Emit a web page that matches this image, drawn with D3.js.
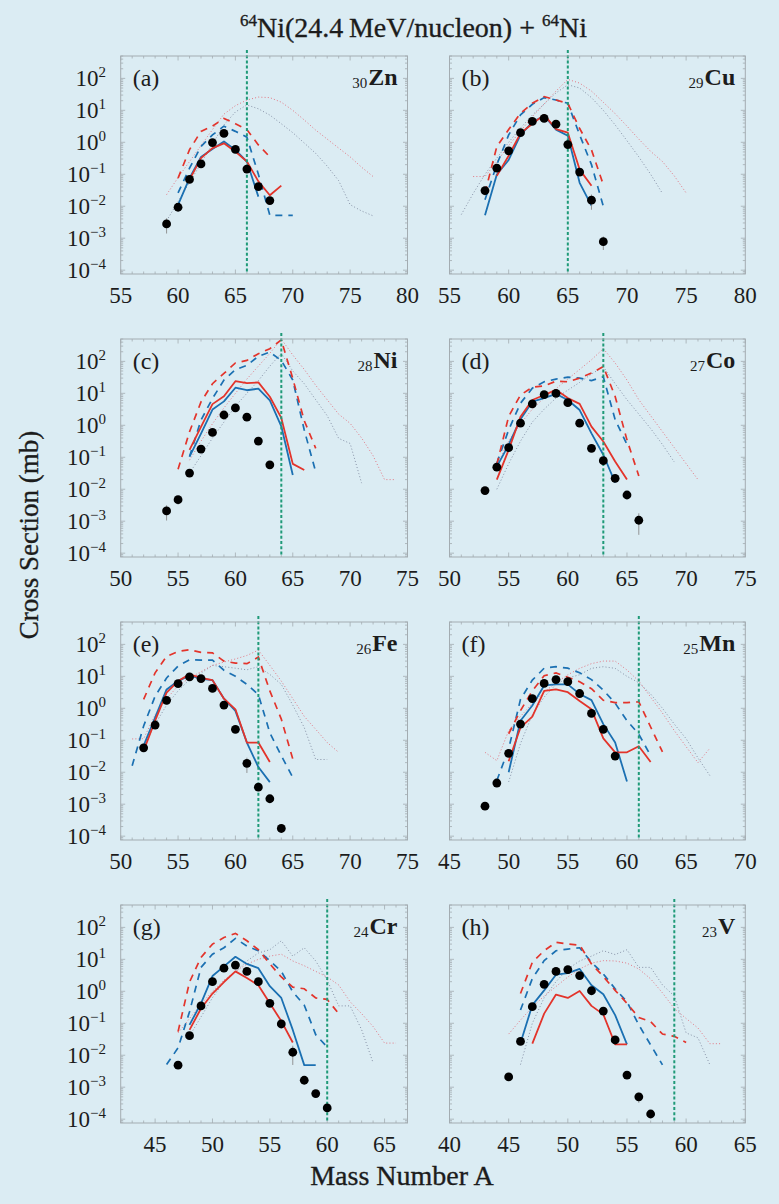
<!DOCTYPE html>
<html>
<head>
<meta charset="utf-8">
<script src="https://cdn.jsdelivr.net/npm/d3@7"></script>
<style>
  html, body { margin: 0; padding: 0; background: #dbecf3; }
  svg { display: block; }
</style>
</head>
<body>
<svg id="chart" width="779" height="1204" font-family="'Liberation Serif', 'DejaVu Serif', 'Times New Roman', Times, serif"></svg>
<script>
// ---------------------------------------------------------------
// Isotope production cross sections (mb), 64Ni(24.4 MeV/u) + 64Ni
// exp*      : [A, sigma, relative error]
// blue*/red*: model curves after de-excitation (solid)
// blueDash*/redDash*: primary fragment yields (dashed)
// pink*/gray*: additional calculations (dotted)
// ---------------------------------------------------------------

// ---- 30Zn ----
const expZn = [[59,2.8e-3,0.5],[60,9.3e-3,0.2],[61,0.069,0.1],[62,0.21,0.1],[63,0.98,0.1],[64,1.9,0.1],[65,0.60,0.1],[66,0.145,0.1],[67,0.041,0.15],[68,0.015,0.15]];
const blueZn = [[60,0.011],[61,0.076],[62,0.35],[63,0.62],[64,1.06],[65,0.58],[66,0.25],[67,0.020]];
const redZn = [[61,0.068],[62,0.32],[63,0.66],[64,0.93],[65,0.51],[66,0.25],[67,0.060],[68,0.022],[69,0.044]];
const blueDashZn = [[60,0.026],[61,0.155],[62,0.74],[63,1.7],[64,3.2],[65,2.2],[66,1.45],[67,0.1],[68,0.0052],[69,0.0052],[70,0.0052]];
const redDashZn = [[60,0.076],[61,0.59],[62,2.2],[63,3.2],[64,5.6],[65,3.8],[66,2.5],[67,0.83],[68,0.35]];
const pinkZn = [[59,0.023],[60,0.079],[61,0.25],[62,0.79],[63,2.5],[64,7.6],[65,14],[66,21],[67,26],[68,25],[69,18],[70,10],[71,5.0],[72,2.4],[73,1.26],[74,0.66],[75,0.35],[76,0.166],[77,0.085]];
const grayZn = [[59,3.5e-3],[60,0.014],[61,0.056],[62,0.22],[63,0.89],[64,3.5],[65,8.9],[66,14.8],[67,11.2],[68,7.1],[69,3.8],[70,2.0],[71,0.95],[72,0.45],[73,0.18],[74,0.063],[75,0.0112],[76,7.1e-3],[77,5.0e-3]];

// ---- 29Cu ----
const expCu = [[58,0.031,0.3],[59,0.155,0.1],[60,0.54,0.1],[61,2.0,0.1],[62,4.5,0.1],[63,5.6,0.1],[64,3.7,0.1],[65,0.85,0.1],[66,0.117,0.15],[67,0.0155,0.5],[68,7.8e-4,0.45]];
const blueCu = [[58,0.0052],[59,0.098],[60,0.28],[61,1.7],[62,4.2],[63,6.8],[64,2.5],[65,1.6],[66,0.054],[67,0.0105]];
const redCu = [[59,0.089],[60,0.38],[61,1.9],[62,3.8],[63,7.2],[64,2.6],[65,2.0],[66,0.14],[67,0.044]];
const blueDashCu = [[58,0.016],[59,0.20],[60,1.7],[61,7.2],[62,15.5],[63,25],[64,21],[65,16.6],[66,1.7],[67,0.2],[68,0.01]];
const redDashCu = [[58,0.026],[59,0.74],[60,2.5],[61,8.1],[62,16.6],[63,27],[64,21],[65,16.6],[66,2.7],[67,0.58],[68,0.047]];
const pinkCu = [[57,0.085],[58,0.085],[59,0.25],[60,0.79],[61,2.24],[62,6.3],[63,15.8],[64,40],[65,93],[66,71],[67,40],[68,17.8],[69,7.9],[70,3.2],[71,1.26],[72,0.52],[73,0.25],[74,0.089],[75,0.026]];
const grayCu = [[56,5.5e-3],[57,0.025],[58,0.1],[59,0.32],[60,1.0],[61,2.8],[62,7.1],[63,15.8],[64,35],[65,63],[66,50],[67,25],[68,10],[69,3.5],[70,1.12],[71,0.35],[72,0.1],[73,0.025]];

// ---- 28Ni ----
const expNi = [[54,2.1e-3,0.5],[55,4.7e-3,0.3],[56,0.032,0.1],[57,0.18,0.1],[58,0.60,0.1],[59,2.1,0.1],[60,3.5,0.1],[61,1.8,0.1],[62,0.32,0.1],[63,0.058,0.1]];
const blueNi = [[56,0.105],[57,0.55],[58,3.1],[59,5.6],[60,15],[61,12.5],[62,14],[63,6.0],[64,0.93],[65,0.028]];
const redNi = [[56,0.17],[57,0.89],[58,4.6],[59,8.1],[60,24],[61,21],[62,22],[63,7.8],[64,1.7],[65,0.062],[66,0.040]];
const blueDashNi = [[56,0.105],[57,1.45],[58,6.9],[59,26],[60,55],[61,75],[62,144],[63,195],[64,107],[65,26],[66,0.71],[67,0.035]];
const redDashNi = [[55,0.042],[56,0.63],[57,5.4],[58,20],[59,42],[60,89],[61,107],[62,174],[63,250],[64,470],[65,29],[66,1.4],[67,0.19]];
const pinkNi = [[56,0.081],[57,0.32],[58,1.12],[59,3.5],[60,10],[61,28],[62,71],[63,178],[64,500],[65,158],[66,56],[67,17.8],[68,6.3],[69,2.24],[70,1.15],[71,0.40],[72,0.112],[73,0.020],[74,0.020]];
const grayNi = [[56,0.032],[57,0.112],[58,0.40],[59,1.26],[60,4.0],[61,10],[62,25],[63,71],[64,178],[65,50],[66,20],[67,6.3],[68,2.0],[69,0.39],[70,0.27],[71,0.0155]];

// ---- 27Co ----
const expCo = [[53,9.1e-3,0.15],[54,0.049,0.15],[55,0.20,0.1],[56,1.17,0.1],[57,4.7,0.1],[58,9.1,0.1],[59,10,0.1],[60,5.1,0.1],[61,1.17,0.1],[62,0.19,0.1],[63,0.078,0.1],[64,0.022,0.15],[65,6.6e-3,0.2],[66,1.07e-3,0.65]];
const blueCo = [[54,0.051],[55,0.245],[56,1.55],[57,5.5],[58,7.1],[59,9.6],[60,6.2],[61,3.0],[62,0.56],[63,0.12],[64,0.016]];
const redCo = [[54,0.020],[55,0.17],[56,1.86],[57,6.2],[58,8.9],[59,12.9],[60,7.1],[61,4.7],[62,0.91],[63,0.31],[64,0.074],[65,0.020]];
const blueDashCo = [[54,0.065],[55,0.72],[56,4.9],[57,14.5],[58,23],[59,28],[60,32],[61,30],[62,25],[63,33],[64,1.5],[65,0.25]];
const redDashCo = [[54,0.059],[55,1.9],[56,8.9],[57,15.5],[58,17],[59,24],[60,23],[61,30],[62,43],[63,69],[64,8],[65,0.35],[66,0.026]];
const pinkCo = [[54,0.056],[55,0.32],[56,1.12],[57,3.2],[58,7.1],[59,14],[60,28],[61,56],[62,112],[63,250],[64,89],[65,26],[66,6.3],[67,2.0],[68,0.63],[69,0.2],[70,0.063],[71,0.020]];
const grayCo = [[54,0.01],[55,0.063],[56,0.32],[57,1.26],[58,3.2],[59,7.1],[60,12.6],[61,22],[62,40],[63,68],[64,20],[65,6.3],[66,2.24],[67,0.79],[68,0.25],[69,0.071]];

// ---- 26Fe ----
const expFe = [[52,0.058,0.1],[53,0.30,0.1],[54,1.78,0.1],[55,5.9,0.1],[56,9.6,0.1],[57,8.5,0.1],[58,4.2,0.1],[59,1.26,0.1],[60,0.22,0.1],[61,0.019,0.5],[62,3.4e-3,0.2],[63,1.48e-3,0.2],[64,1.74e-4,0.2]];
const blueFe = [[52,0.068],[53,0.51],[54,3.9],[55,7.1],[56,10.7],[57,8.3],[58,7.6],[59,2.0],[60,0.83],[61,0.085],[62,0.0145],[63,4.9e-3]];
const redFe = [[52,0.047],[53,0.41],[54,3.1],[55,7.1],[56,11.5],[57,8.9],[58,7.6],[59,2.0],[60,0.93],[61,0.085],[62,0.085],[63,0.021]];
const blueDashFe = [[51,0.016],[52,0.28],[53,2.4],[54,8.9],[55,21],[56,33],[57,32],[58,32],[59,15.5],[60,10],[61,5.6],[62,2.7],[63,0.17],[64,0.033],[65,0.0069]];
const redDashFe = [[52,1.9],[53,12.9],[54,42],[55,60],[56,68],[57,56],[58,54],[59,30],[60,26],[61,25],[62,40],[63,3.5],[64,0.46],[65,0.026]];
const pinkFe = [[51,0.11],[52,0.112],[53,0.63],[54,2.0],[55,5.0],[56,8.9],[57,14],[58,22],[59,28],[60,35],[61,45],[62,66],[63,22],[64,7.1],[65,2.0],[66,0.56],[67,0.22],[68,0.085],[69,0.042]];
const grayFe = [[52,0.063],[53,0.32],[54,1.26],[55,3.5],[56,7.9],[57,12.6],[58,22],[59,20],[60,18],[61,16],[62,20],[63,11.5],[64,5.6],[65,1.26],[66,0.25],[67,0.025],[68,0.025]];

// ---- 25Mn ----
const expMn = [[48,8.7e-4,0.2],[49,4.6e-3,0.25],[50,0.039,0.15],[51,0.32,0.1],[52,2.0,0.1],[53,6.0,0.1],[54,7.9,0.1],[55,6.8,0.1],[56,2.9,0.1],[57,0.69,0.1],[58,0.22,0.1],[59,0.032,0.1]];
const blueMn = [[50,0.010],[51,0.41],[52,1.23],[53,5.2],[54,5.6],[55,5.6],[56,2.8],[57,1.8],[58,0.32],[59,0.085],[60,5.1e-3]];
const redMn = [[50,0.022],[51,0.25],[52,0.55],[53,3.5],[54,3.9],[55,3.2],[56,1.7],[57,0.93],[58,0.115],[59,0.042],[60,0.042],[61,0.065],[62,0.021]];
const blueDashMn = [[49,5.5e-3],[50,0.054],[51,1.9],[52,7.6],[53,18],[54,20],[55,18],[56,12.9],[57,7.9],[58,3.7],[59,1.45],[60,0.41],[61,0.155],[62,0.033]];
const redDashMn = [[50,0.16],[51,0.85],[52,3.5],[53,10.5],[54,12.8],[55,9.4],[56,6.8],[57,4.1],[58,1.78],[59,1.5],[60,1.5],[61,1.6],[62,0.26],[63,0.043]];
const pinkMn = [[48,0.042],[49,0.023],[50,0.2],[51,0.56],[52,1.41],[53,3.2],[54,6.3],[55,11.2],[56,17.8],[57,25],[58,30],[59,30],[60,15.8],[61,7.1],[62,2.24],[63,0.71],[64,0.2],[65,0.063],[66,0.020],[67,0.056]];
const grayMn = [[50,5e-3],[51,0.079],[52,0.63],[53,2.24],[54,5.6],[55,8.9],[56,11.2],[57,17.8],[58,20],[59,17.8],[60,10],[61,6.3],[62,2.8],[63,1.0],[64,0.32],[65,0.112],[66,0.028],[67,7.9e-3]];

// ---- 24Cr ----
const expCr = [[47,4.9e-3,0.2],[48,0.041,0.1],[49,0.35,0.1],[50,2.0,0.1],[51,5.3,0.1],[52,6.6,0.1],[53,4.2,0.1],[54,2.0,0.1],[55,0.42,0.1],[56,0.095,0.15],[57,0.0124,0.6],[58,1.65e-3,0.15],[59,6.3e-4,0.15],[60,2.24e-4,0.15]];
const blueCr = [[48,0.089],[49,0.42],[50,3.0],[51,6.0],[52,12],[53,7.2],[54,5.3],[55,1.45],[56,0.62],[57,0.062],[58,4.9e-3],[59,4.9e-3]];
const redCr = [[48,0.062],[49,0.29],[50,0.85],[51,1.95],[52,4.2],[53,2.6],[54,1.55],[55,0.42],[56,0.117],[57,0.025]];
const blueDashCr = [[46,5.1e-3],[47,0.017],[48,0.23],[49,5.6],[50,14.5],[51,23],[52,45],[53,26],[54,18.5],[55,9.1],[56,4.2],[57,0.96],[58,0.37],[59,0.044],[60,0.018]];
const redDashCr = [[47,0.055],[48,1.95],[49,11.5],[50,30],[51,48],[52,65],[53,38],[54,20],[55,7.2],[56,2.8],[57,1.35],[58,1.2],[59,0.62],[60,0.56],[61,0.2]];
const pinkCr = [[47,0.05],[48,0.141],[49,0.40],[50,1.0],[51,2.24],[52,4.2],[53,7.1],[54,10],[55,12.6],[56,14.5],[57,8.9],[58,6.3],[59,4.2],[60,2.8],[61,1.58],[62,0.47],[63,0.2],[64,0.079],[65,0.024],[66,0.024]];
const grayCr = [[48,0.04],[49,0.158],[50,0.63],[51,2.0],[52,4.0],[53,8.9],[54,15.8],[55,20],[56,38],[57,12.6],[58,23],[59,8.9],[60,2.24],[61,0.35],[62,0.35],[63,0.063],[64,5.8e-3]];

// ---- 23V ----
const expV = [[45,2.1e-3,0.25],[46,0.027,0.1],[47,0.33,0.1],[48,1.65,0.1],[49,4.2,0.1],[50,4.8,0.1],[51,3.1,0.1],[52,1.04,0.1],[53,0.24,0.1],[54,0.030,0.1],[55,2.4e-3,0.2],[56,5.0e-4,0.35],[57,1.45e-4,0.2]];
const blueV = [[46,0.024],[47,0.37],[48,1.07],[49,3.3],[50,3.7],[51,5.0],[52,1.55],[53,0.81],[54,0.18],[55,0.022]];
const redV = [[47,0.023],[48,0.20],[49,0.79],[50,0.62],[51,1.02],[52,0.35],[53,0.19],[54,0.022],[55,0.022]];
const blueDashV = [[46,0.26],[47,2.5],[48,9.1],[49,18.6],[50,21],[51,23],[52,8.1],[53,3.5],[54,1.2],[55,0.47],[56,0.089],[57,0.021],[58,5e-3]];
const redDashV = [[46,0.85],[47,8.1],[48,18.6],[49,34],[50,30],[51,28],[52,7.2],[53,2.9],[54,1.07],[55,0.42],[56,0.151],[57,0.112],[58,0.046],[59,0.039],[60,0.025]];
const pinkV = [[45,0.046],[46,0.126],[47,0.32],[48,0.71],[49,1.41],[50,2.8],[51,5.0],[52,7.6],[53,9.1],[54,8.9],[55,7.6],[56,5.0],[57,2.45],[58,0.89],[59,0.29],[60,0.141],[61,0.071],[62,0.023],[63,0.023]];
const grayV = [[46,5.1e-3],[47,0.1],[48,0.63],[49,2.0],[50,5.0],[51,8.9],[52,12.6],[53,18.6],[54,14.1],[55,20],[56,5.6],[57,5.6],[58,1.58],[59,0.71],[60,0.05],[61,0.035],[62,5.1e-3]];

// panel descriptors: tag, element, Z, mass-number range, projectile neutron-number line (N = 36)
const panelTags = ["(a)","(b)","(c)","(d)","(e)","(f)","(g)","(h)"];
const elements = ["Zn","Cu","Ni","Co","Fe","Mn","Cr","V"];
const charges = ["30","29","28","27","26","25","24","23"];
const massRanges = [[55,80],[55,80],[50,75],[50,75],[50,75],[45,70],[42,67],[40,65]];
const nLines = [66,65,64,63,62,61,60,59];
const yTickExponents = [2,1,0,-1,-2,-3,-4];

const seriesByPanel = [
  {exp:expZn, blue:blueZn, red:redZn, blueDash:blueDashZn, redDash:redDashZn, pink:pinkZn, gray:grayZn},
  {exp:expCu, blue:blueCu, red:redCu, blueDash:blueDashCu, redDash:redDashCu, pink:pinkCu, gray:grayCu},
  {exp:expNi, blue:blueNi, red:redNi, blueDash:blueDashNi, redDash:redDashNi, pink:pinkNi, gray:grayNi},
  {exp:expCo, blue:blueCo, red:redCo, blueDash:blueDashCo, redDash:redDashCo, pink:pinkCo, gray:grayCo},
  {exp:expFe, blue:blueFe, red:redFe, blueDash:blueDashFe, redDash:redDashFe, pink:pinkFe, gray:grayFe},
  {exp:expMn, blue:blueMn, red:redMn, blueDash:blueDashMn, redDash:redDashMn, pink:pinkMn, gray:grayMn},
  {exp:expCr, blue:blueCr, red:redCr, blueDash:blueDashCr, redDash:redDashCr, pink:pinkCr, gray:grayCr},
  {exp:expV,  blue:blueV,  red:redV,  blueDash:blueDashV,  redDash:redDashV,  pink:pinkV,  gray:grayV}
];

// ---------------- layout & style ----------------
const W = 779, H = 1204;
const BG = "#dbecf3";
const SERIF = "'Liberation Serif', 'DejaVu Serif', 'Times New Roman', Times, serif";
const INK = "#1c1c1c";
const colBoxes = [{x: 120.7, w: 286.8}, {x: 449.5, w: 295.8}];
const rowTops = [56, 339, 622, 905];
const PH = 218;
const logMin = -4.12, logMax = 2.70;

const C = {
  frame: "#a3acb1",
  tick: "#a3acb1",
  blue: "#1b70b2",
  red: "#e3342b",
  pink: "#e27682",
  gray: "#8691a6",
  green: "#1f9a78",
  err: "#8a8a8a"
};

const svg = d3.select("#chart");
svg.append("rect").attr("width", W).attr("height", H).attr("fill", BG);
const defs = svg.append("defs");

function addText(parent) {
  return parent.append("text").attr("font-family", SERIF).attr("fill", INK);
}

seriesByPanel.forEach((S, i) => {
  const col = i % 2, row = Math.floor(i / 2);
  const left = colBoxes[col].x, width = colBoxes[col].w;
  const top = rowTops[row];
  const xd = massRanges[i];

  const xs = d3.scaleLinear().domain(xd).range([left, left + width]);
  const ys = d3.scaleLog().domain([Math.pow(10, logMin), Math.pow(10, logMax)]).range([top + PH, top]);

  const g = svg.append("g");

  // clip region for the curves
  const clipId = "clip" + i;
  defs.append("clipPath").attr("id", clipId)
    .append("rect").attr("x", left).attr("y", top).attr("width", width).attr("height", PH);

  // ----- ticks (inward, on all four sides) -----
  const tg = g.append("g").attr("stroke", C.tick).attr("stroke-width", 0.8);
  d3.range(xd[0], xd[1] + 0.01, 1).forEach(v => {
    const len = (v % 5 === 0) ? 4.5 : 2.5;
    const px = xs(v);
    tg.append("line").attr("x1", px).attr("x2", px).attr("y1", top + PH).attr("y2", top + PH - len);
    tg.append("line").attr("x1", px).attr("x2", px).attr("y1", top).attr("y2", top + len);
  });
  for (let e = -5; e <= 2; e++) {
    for (let k = 1; k <= 9; k++) {
      const v = k * Math.pow(10, e);
      const lv = Math.log10(v);
      if (lv < logMin || lv > logMax) continue;
      const len = (k === 1) ? 4.5 : 2.5;
      const py = ys(v);
      tg.append("line").attr("x1", left).attr("x2", left + len).attr("y1", py).attr("y2", py);
      tg.append("line").attr("x1", left + width).attr("x2", left + width - len).attr("y1", py).attr("y2", py);
    }
  }

  // ----- curves -----
  const line = d3.line().x(d => xs(d[0])).y(d => ys(d[1]));
  const cg = g.append("g").attr("clip-path", `url(#${clipId})`).attr("fill", "none");

  cg.append("path").attr("d", line(S.gray)).attr("stroke", C.gray)
    .attr("stroke-width", 1).attr("stroke-dasharray", "1,2.2");
  cg.append("path").attr("d", line(S.pink)).attr("stroke", C.pink)
    .attr("stroke-width", 1).attr("stroke-dasharray", "1,2.2");
  cg.append("path").attr("d", line(S.blueDash)).attr("stroke", C.blue)
    .attr("stroke-width", 1.7).attr("stroke-dasharray", "7,6");
  cg.append("path").attr("d", line(S.redDash)).attr("stroke", C.red)
    .attr("stroke-width", 1.7).attr("stroke-dasharray", "7,6");
  cg.append("path").attr("d", line(S.blue)).attr("stroke", C.blue)
    .attr("stroke-width", 1.8).attr("stroke-linejoin", "round");
  cg.append("path").attr("d", line(S.red)).attr("stroke", C.red)
    .attr("stroke-width", 1.8).attr("stroke-linejoin", "round");

  // ----- projectile N = 36 line -----
  g.append("line")
    .attr("x1", xs(nLines[i])).attr("x2", xs(nLines[i]))
    .attr("y1", top - 6).attr("y2", top + PH - 1)
    .attr("stroke", C.green).attr("stroke-width", 2).attr("stroke-dasharray", "3,2.2");

  // ----- measured points with error bars -----
  const eg = g.append("g");
  eg.selectAll("line.err").data(S.exp).join("line")
    .attr("x1", d => xs(d[0])).attr("x2", d => xs(d[0]))
    .attr("y1", d => ys(d[1] * (1 + d[2])))
    .attr("y2", d => ys(d[1] * Math.max(1 - d[2], 0.05)))
    .attr("stroke", C.err).attr("stroke-width", 0.9);
  eg.selectAll("circle").data(S.exp).join("circle")
    .attr("cx", d => xs(d[0])).attr("cy", d => ys(d[1]))
    .attr("r", 4.4).attr("fill", "#000");

  // ----- frame -----
  g.append("rect").attr("x", left).attr("y", top).attr("width", width).attr("height", PH)
    .attr("fill", "none").attr("stroke", C.frame).attr("stroke-width", 1);

  // ----- x tick labels at multiples of 5 -----
  d3.range(Math.ceil(xd[0] / 5) * 5, xd[1] + 0.01, 5).forEach(v => {
    addText(g).attr("x", xs(v)).attr("y", top + PH + 29)
      .attr("text-anchor", "middle").attr("font-size", 23).text(v);
  });

  // ----- y tick labels (left column only) -----
  if (col === 0) {
    yTickExponents.forEach(e => {
      const t = addText(g).attr("x", 106).attr("y", ys(Math.pow(10, e)) + 7.5)
        .attr("text-anchor", "end").attr("font-size", 23);
      t.append("tspan").text("10");
      t.append("tspan").attr("dy", -9).attr("font-size", 15)
        .text(e < 0 ? "\u2212" + Math.abs(e) : String(e));
    });
  }

  // ----- panel tag and element -----
  addText(g).attr("x", left + 12).attr("y", top + 30)
    .attr("font-size", 24).text(panelTags[i]);
  const sym = addText(g).attr("x", left + width - 10).attr("y", top + 29)
    .attr("text-anchor", "end").attr("font-size", 24).attr("font-weight", "bold")
    .text(elements[i]);
  const symW = sym.node().getComputedTextLength();
  addText(g).attr("x", left + width - 10 - symW - 1).attr("y", top + 32)
    .attr("text-anchor", "end").attr("font-size", 15).text(charges[i]);
});

// ---------------- titles ----------------
const title = addText(svg).attr("x", 413.5).attr("y", 37)
  .attr("text-anchor", "middle").attr("font-size", 28)
  .attr("stroke", INK).attr("stroke-width", 0.35);
title.append("tspan").attr("font-size", 17).attr("dy", -11).text("64");
title.append("tspan").attr("dy", 11).text("Ni(24.4\u2009MeV/nucleon) + ");
title.append("tspan").attr("font-size", 17).attr("dy", -11).text("64");
title.append("tspan").attr("dy", 11).text("Ni");

addText(svg)
  .attr("transform", "translate(38,535) rotate(-90)")
  .attr("text-anchor", "middle").attr("font-size", 27)
  .attr("stroke", INK).attr("stroke-width", 0.35)
  .text("Cross Section (mb)");

addText(svg).attr("x", 402).attr("y", 1185)
  .attr("text-anchor", "middle").attr("font-size", 28)
  .attr("stroke", INK).attr("stroke-width", 0.35)
  .text("Mass Number A");
</script>
</body>
</html>
